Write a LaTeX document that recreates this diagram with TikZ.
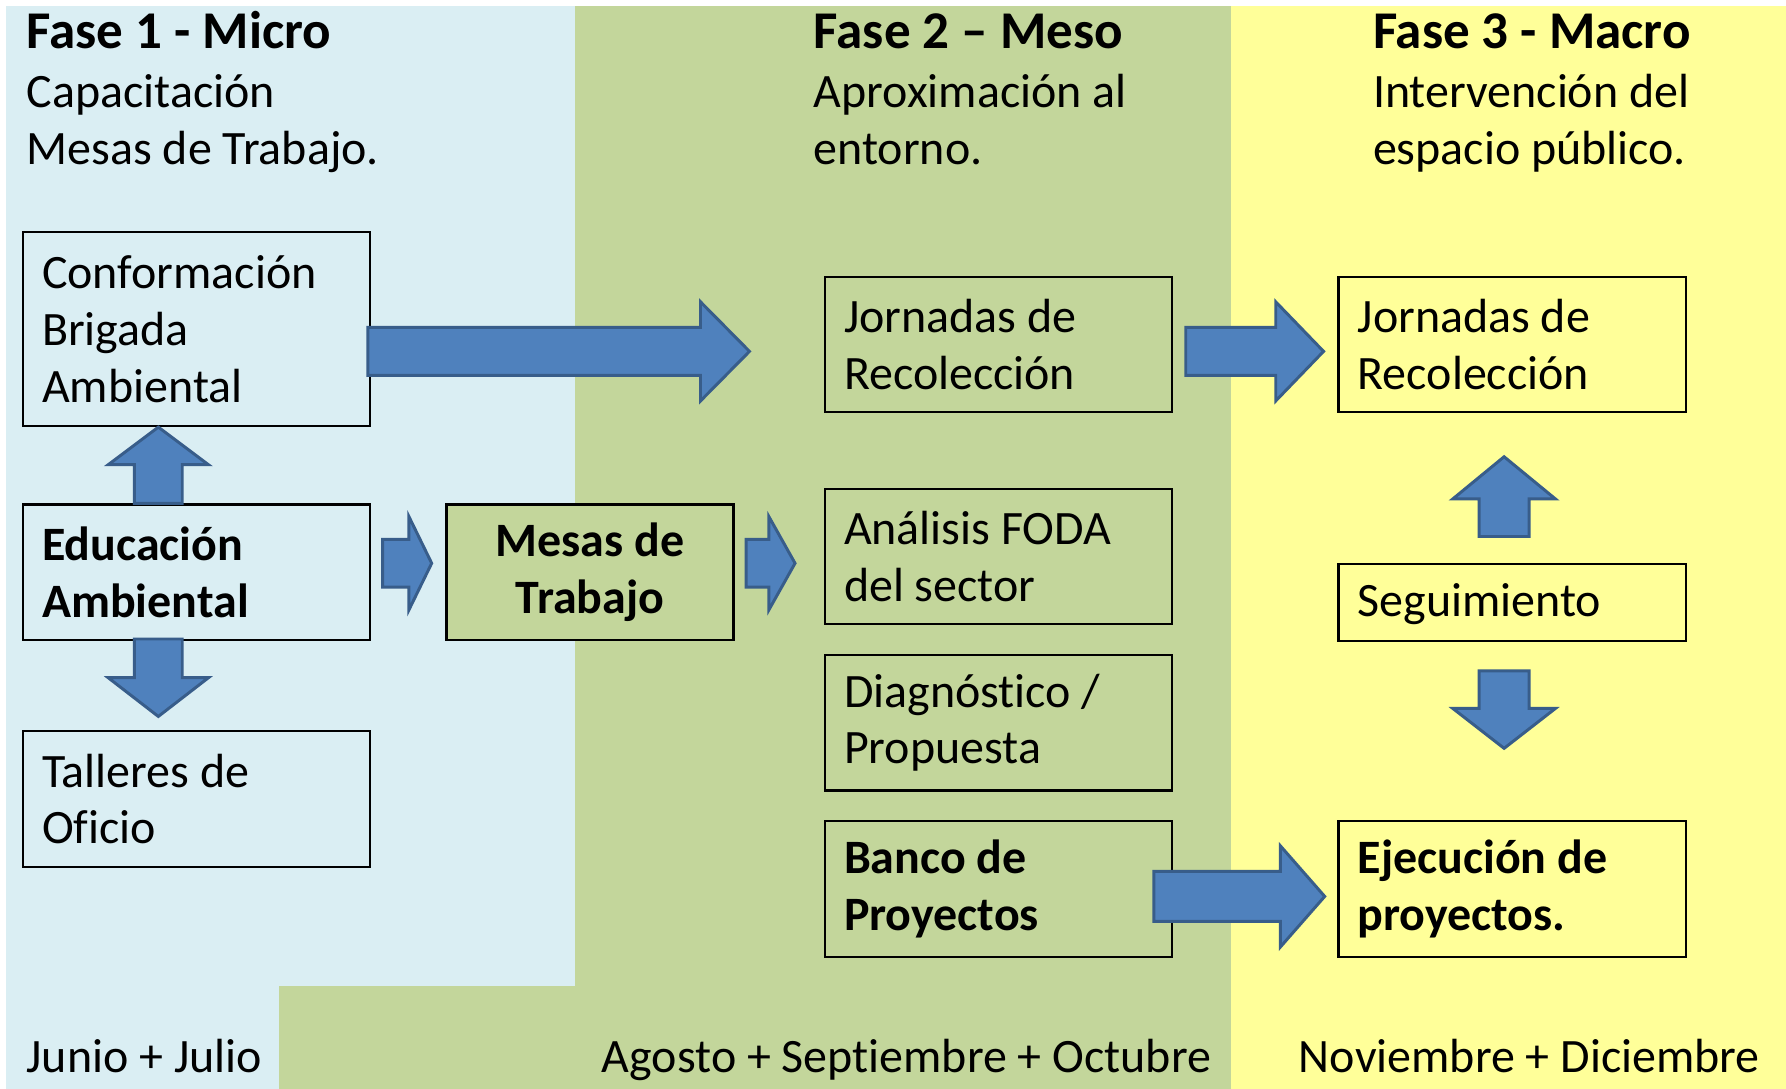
\documentclass[tikz,border=0pt]{standalone}
\usepackage{fontspec}
\setmainfont{Carlito}[Ligatures=NoCommon]
\definecolor{bgblue}{HTML}{DAEEF3}
\definecolor{bggreen}{HTML}{C3D69B}
\definecolor{bgyellow}{HTML}{FFFF99}
\definecolor{arrfill}{HTML}{4F81BD}
\definecolor{arrline}{HTML}{385D8A}
\newcommand\bodyf{\fontsize{21.05pt}{25pt}\selectfont}
\newcommand\headf{\fontsize{23.3pt}{27pt}\selectfont\bfseries}
\newcommand\rarr[6]{\draw[blockarrow] (#1,{#4-#5}) -- (#2,{#4-#5}) -- (#2,{#4-#6}) -- (#3,#4) -- (#2,{#4+#6}) -- (#2,{#4+#5}) -- (#1,{#4+#5}) -- cycle;}
\newcommand\varr[6]{\draw[blockarrow] ({#1-#5},#2) -- ({#1-#5},#3) -- ({#1-#6},#3) -- (#1,#4) -- ({#1+#6},#3) -- ({#1+#5},#3) -- ({#1+#5},#2) -- cycle;}
\tikzset{
  box/.style={draw=black, line width=1pt, anchor=north west, text width=135.5pt,
    inner xsep=8.5pt, inner ysep=0pt, align=flush left, font=\bodyf, minimum height=59.5pt},
  boldbox/.style={box, font=\bodyf\bfseries},
  head/.style={anchor=base west, inner sep=0pt, font=\headf},
  sub/.style={anchor=base west, inner sep=0pt, font=\bodyf},
  blockarrow/.style={fill=arrfill, draw=arrline, line width=1.3pt, line join=miter}
}
\begin{document}
\begin{tikzpicture}[x=0.5pt,y=-0.5pt]
\useasboundingbox (0,0) rectangle (1568,956);
\fill[white] (0,0) rectangle (1568,956);
\fill[bgblue] (5,5) rectangle (505,866);
\fill[bgblue] (5,866) rectangle (245,956);
\fill[bggreen] (505,5) rectangle (1081,956);
\fill[bggreen] (245,866) rectangle (505,956);
\fill[bgyellow] (1081,5) rectangle (1568,956);

% headings
\node[head] (f1) at (23,43) {Fase 1 - Micro};
\node[sub] (f1a) at (23,94) {Capacitación};
\node[sub] (f1b) at (23,144) {Mesas de Trabajo.};
\node[head] (f2) at (714,43) {Fase 2 – Meso};
\node[sub] (f2a) at (714,94) {Aproximación al};
\node[sub] (f2b) at (714,144) {entorno.};
\node[head] (f3) at (1205,43) {Fase 3 - Macro};
\node[sub] (f3a) at (1205,94) {Intervención del};
\node[sub] (f3b) at (1205,144) {espacio público.};

% months
\node[sub] (m1) at (23,942) {Junio + Julio};
\node[sub] (m2) at (528,942) {Agosto + Septiembre + Octubre};
\node[sub] (m3) at (1140,942) {Noviembre + Diciembre};

% boxes
\node[box, minimum height=85pt] (conf) at (19,203) {Conformación\\Brigada\\Ambiental};
\node[boldbox] (edu) at (19,442) {Educación\\Ambiental};
\node[box] (tall) at (19,641) {Talleres de\\Oficio};
\node[boldbox, fill=bggreen, text width=109pt, align=flush center] (mesas) at (391,442) {Mesas de\\Trabajo};
\node[box] (jor2) at (723,242) {Jornadas de\\Recolección};
\node[box] (foda) at (723,428) {Análisis FODA\\del sector};
\node[box] (diag) at (723,574) {Diagnóstico /\\Propuesta};
\node[boldbox] (banco) at (723,720) {Banco de\\Proyectos};
\node[box] (jor3) at (1174,242) {Jornadas de\\Recolección};
\node[box, minimum height=34pt, text depth=2pt] (seg) at (1174,494) {Seguimiento};
\node[boldbox] (ejec) at (1174,720) {Ejecución de\\proyectos.};

% block arrows
\rarr{323}{615}{658}{308.5}{21}{43.5}
\varr{139}{442}{408}{375}{21}{44}
\varr{139}{561}{595}{629}{21}{44}
\rarr{336}{359}{379}{494.5}{21}{41}
\rarr{655}{675}{698}{494.5}{21}{41}
\rarr{1041}{1120}{1162}{308.5}{21}{43.5}
\varr{1320.5}{471}{438}{401}{22}{45}
\varr{1320.5}{589}{622}{657}{22}{45}
\rarr{1013}{1124}{1163}{787}{22}{44.5}
\end{tikzpicture}
\end{document}
